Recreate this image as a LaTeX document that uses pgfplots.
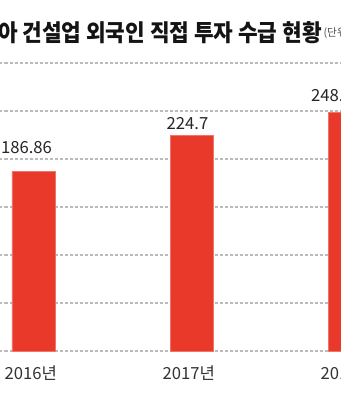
\documentclass[border=0pt]{standalone}
\usepackage{fontspec}
\usepackage{pgfplots}
\pgfplotsset{compat=1.18}
\setmainfont{Noto Sans CJK KR}
\newfontfamily\kr{Noto Sans CJK KR}
\definecolor{barred}{HTML}{E8392A}
\definecolor{gridgray}{HTML}{BBBBBB}
\definecolor{basegray}{HTML}{999999}
\begin{document}
\begin{tikzpicture}
\path[use as bounding box] (0,0) rectangle (255.75pt,300pt);
\clip (0,0) rectangle (255.75pt,300pt);
\fill[white] (0,0) rectangle (255.75pt,300pt);
\begin{axis}[
  at={(-34.125pt,36.75pt)}, anchor=south west,
  scale only axis, width=355.5pt, height=216pt,
  xmin=-0.5, xmax=2.5, ymin=0, ymax=300,
  axis line style={draw=none},
  xtick={0,1,2}, xticklabels={2016년,2017년,2018년},
  xtick style={draw=none},
  xticklabel style={anchor=center, yshift=-16.5pt, xshift=-2pt, font=\kr\fontsize{12.5}{14}\selectfont, text=black!80},
  ytick={50,100,...,300}, yticklabels={},
  ytick style={draw=none},
  ymajorgrids,
  major grid style={gridgray, dash pattern=on 2.25pt off 1.5pt, line width=0.8pt},
  extra y ticks={0}, extra y tick labels={},
  extra y tick style={grid style={solid, basegray, line width=0.9pt}},
  clip=false,
]
\addplot[ybar, bar width=32.25pt, fill=barred, draw=barred!70!white, line width=0.5pt]
  coordinates {(0,186.86) (1,224.7) (2,248.59)};
\addplot[draw=none, nodes near coords, point meta=explicit symbolic,
  nodes near coords style={anchor=center, font=\kr\fontsize{12.5}{14}\selectfont, text=black!85, inner sep=0pt}]
  coordinates {(-0.044,211.5) [186.86] (0.975,236.5) [224.7] (1.918,265.6) [248.59]};
\end{axis}
\node[anchor=east, inner sep=0pt, yscale=1.1, font=\kr\bfseries\fontsize{16}{18}\selectfont, text=black!92] (t) at (241.5pt,275.25pt) {아 건설업 외국인 직접 투자 수급 현황};
\node[anchor=west, inner sep=0pt, font=\kr\fontsize{8}{9}\selectfont, text=black!70] at ([xshift=1pt]t.east) {(단위: 억 달러)};
\end{tikzpicture}
\end{document}
